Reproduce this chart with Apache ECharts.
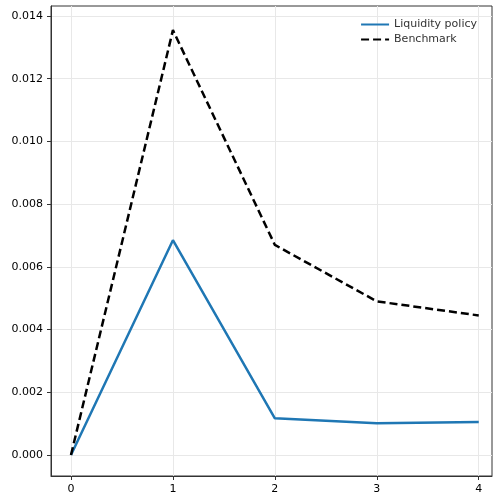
<!DOCTYPE html>
<html><head><meta charset="utf-8">
<script src="https://cdn.jsdelivr.net/npm/echarts@6/dist/echarts.min.js"></script>
<style>html,body{margin:0;padding:0;background:#fff}#c{width:496px;height:497px}</style>
</head><body><div id="c"></div>
<script>
var periods = [0, 1, 2, 3, 4];
var liquidity = [0, 0.00685, 0.00117, 0.00101, 0.00105];
var benchmark = [0, 0.01355, 0.0067, 0.0049, 0.00445];
var yTicks = [0, 0.002, 0.004, 0.006, 0.008, 0.01, 0.012, 0.014];

var chart = echarts.init(document.getElementById('c'));
function pairs(v) { return periods.map(function (p, i) { return [p, v[i]]; }); }
var lbl = { color: '#000', fontSize: 11, fontFamily: 'DejaVu Sans' };
var line = { show: true, onZero: false, lineStyle: { color: '#333' } };
var tick = { show: true, inside: false, length: 4, lineStyle: { color: '#333' } };
var split = { show: true, lineStyle: { color: '#e8e8e8' } };
chart.setOption({
  animation: false,
  grid: { left: 51, right: 4, top: 6, bottom: 21, show: true, borderColor: '#333', borderWidth: 1 },
  xAxis: { type: 'value', min: -0.196, max: 4.13, axisLine: line, splitLine: split,
    axisTick: Object.assign({ customValues: periods }, tick),
    axisLabel: Object.assign({ customValues: periods, formatter: function (v) { return String(v); } }, lbl) },
  yAxis: { type: 'value', min: -0.00067, max: 0.01432, axisLine: line, splitLine: split,
    axisTick: Object.assign({ customValues: yTicks }, tick),
    axisLabel: Object.assign({ customValues: yTicks, formatter: function (v) { return v.toFixed(3); } }, lbl) },
  legend: {
    right: 14, top: 14, orient: 'vertical', itemWidth: 28, itemHeight: 10, itemGap: 4,
    textStyle: { fontSize: 11, color: '#333', fontFamily: 'DejaVu Sans' },
    itemStyle: { opacity: 0 },
    data: ['Liquidity policy', 'Benchmark']
  },
  series: [
    { name: 'Liquidity policy', type: 'line', data: pairs(liquidity), showSymbol: false, symbol: 'none',
      lineStyle: { color: '#1f77b4', width: 2.5 }, itemStyle: { color: '#1f77b4' } },
    { name: 'Benchmark', type: 'line', data: pairs(benchmark), showSymbol: false, symbol: 'none',
      lineStyle: { color: '#000', width: 2.5, type: [8, 4] }, itemStyle: { color: '#000' } }
  ]
});
</script></body></html>
